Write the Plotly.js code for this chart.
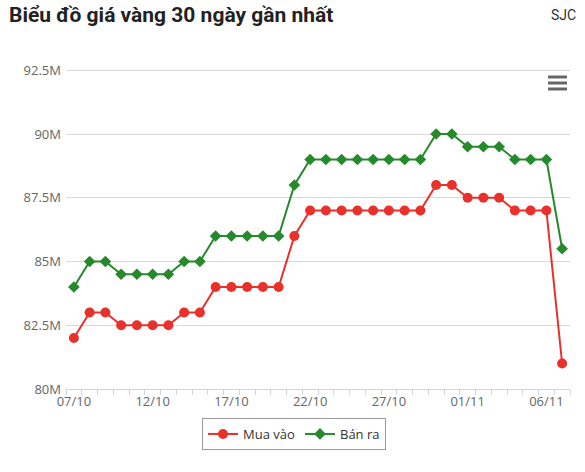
<!DOCTYPE html>
<html>
<head>
<meta charset="utf-8">
<script src="https://cdn.plot.ly/plotly-3.0.1.min.js"></script>
<style>
html,body{margin:0;padding:0;background:#fff;}
#chart{width:585px;height:472px;}
</style>
</head>
<body>
<div id="chart"></div>
<script>
const dates = ["07/10","08/10","09/10","10/10","11/10","12/10","13/10","14/10","15/10","16/10",
  "17/10","18/10","19/10","20/10","21/10","22/10","23/10","24/10","25/10","26/10",
  "27/10","28/10","29/10","30/10","31/10","01/11","02/11","03/11","04/11","05/11","06/11","07/11"];
const buyPrices = [82,83,83,82.5,82.5,82.5,82.5,83,83,84,
  84,84,84,84,86,87,87,87,87,87,
  87,87,87,88,88,87.5,87.5,87.5,87,87,87,81];
const sellPrices = [84,85,85,84.5,84.5,84.5,84.5,85,85,86,
  86,86,86,86,88,89,89,89,89,89,
  89,89,89,90,90,89.5,89.5,89.5,89,89,89,85.5];
const yTickVals = [80,82.5,85,87.5,90,92.5];
const yTickText = ["80M","82.5M","85M","87.5M","90M","92.5M"];
const xLabelIdx = [0,5,10,15,20,25,30];
const seriesNames = ["Mua vào","Bán ra"];

const xs = dates.map((d,i)=>i);

const traces = [
  {x: xs, y: buyPrices, name: seriesNames[0], type:'scatter', mode:'lines+markers',
   line:{color:'#e8312b', width:2}, marker:{symbol:'circle', size:10, color:'#e8312b'},
   text: dates, hovertemplate:'%{text}: %{y}M<extra></extra>'},
  {x: xs, y: sellPrices, name: seriesNames[1], type:'scatter', mode:'lines+markers',
   line:{color:'#268a2c', width:2}, marker:{symbol:'diamond', size:9, color:'#268a2c'},
   text: dates, hovertemplate:'%{text}: %{y}M<extra></extra>'}
];

const W=585, H=472, L=66, R=15, T=69, B=83;
const pw = W-L-R, ph = H-T-B;
function px(x){return (x-L)/pw;}
function py(y){return (H-B-y)/ph;}
const shapes = [77,83,89].map(y=>({type:'line', xref:'paper', yref:'paper',
  x0:px(548), x1:px(567), y0:py(y), y1:py(y), line:{color:'#666', width:3}}));

const layout = {
  width:W, height:H,
  margin:{l:L, r:R, t:T, b:B},
  paper_bgcolor:'#fff', plot_bgcolor:'#fff',
  font:{family:'"Open Sans", sans-serif', color:'#666', size:12},
  showlegend:true,
  legend:{orientation:'h', x:px(294), xanchor:'center', y:py(418), yanchor:'top',
    bordercolor:'#999', borderwidth:1, font:{size:13, color:'#333'}, itemwidth:30},
  xaxis:{range:[-0.5,31.5], tickvals:xLabelIdx, ticktext:xLabelIdx.map(i=>dates[i]),
    showgrid:false, zeroline:false, showline:true, linecolor:'#ccd6eb', linewidth:1,
    ticks:'', tickfont:{size:13, color:'#666'},
    minor:{tick0:0.5, dtick:1, ticks:'outside', ticklen:5, tickcolor:'#ccd6eb', showgrid:false}},
  yaxis:{range:[80,92.55], tickvals:yTickVals, ticktext:yTickText,
    showgrid:true, gridcolor:'#d9d9d9', gridwidth:1, zeroline:false, showline:false,
    ticks:'', ticklabelstandoff:4, tickfont:{size:13, color:'#666'}},
  shapes: shapes,
  annotations:[
    {text:'<b>Biểu đồ giá vàng 30 ngày gần nhất</b>', xref:'paper', yref:'paper',
     x:px(7), y:py(15), xanchor:'left', yanchor:'middle', showarrow:false,
     font:{family:'Roboto, sans-serif', size:21, color:'#222'}},
    {text:'SJC', xref:'paper', yref:'paper', x:px(578), y:py(15), xanchor:'right', yanchor:'middle',
     showarrow:false, font:{family:'Roboto, sans-serif', size:14, color:'#333'}}
  ]
};

Plotly.newPlot('chart', traces, layout, {displayModeBar:false, responsive:false});
</script>
</body>
</html>
